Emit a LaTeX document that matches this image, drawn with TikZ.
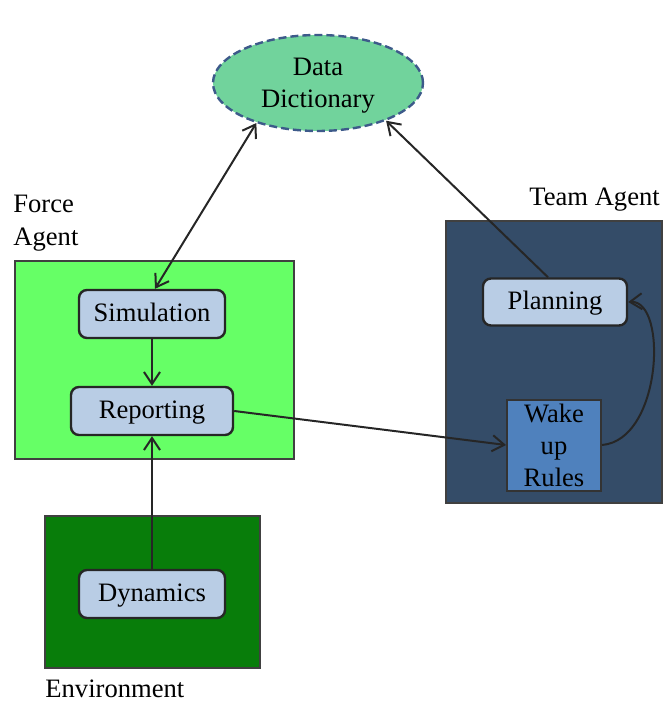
\documentclass[tikz,border=0pt]{standalone}
\usepackage{fontspec}
\setmainfont{Liberation Serif}
\usetikzlibrary{arrows.meta,shapes.geometric}
\definecolor{ddfill}{RGB}{113,211,156}
\definecolor{ddline}{RGB}{61,90,138}
\definecolor{forcefill}{RGB}{102,255,102}
\definecolor{envfill}{RGB}{8,125,10}
\definecolor{teamfill}{RGB}{52,76,104}
\definecolor{boxfill}{RGB}{185,205,229}
\definecolor{wakefill}{RGB}{79,129,189}
\definecolor{frameline}{RGB}{64,64,64}
\begin{document}
\begin{tikzpicture}[x=0.5pt,y=-0.5pt,
  every node/.style={font=\fontsize{13.3}{16}\selectfont},
  region/.style={draw=frameline,line width=1.2pt,rectangle,inner sep=0pt},
  procbox/.style={draw=black!85,line width=1.2pt,fill=boxfill,rounded corners=4pt,inner sep=0pt,
    text height=0.76em,text depth=0pt},
  lbl/.style={inner sep=0pt,anchor=base west},
  conn/.style={line width=1pt,draw=black!85},
  tip/.style={-{Straight Barb[length=6pt,width=8pt,line width=1pt]}},
  dtip/.style={{Straight Barb[length=6pt,width=8pt,line width=1pt]}-{Straight Barb[length=6pt,width=8pt,line width=1pt]}}
]
\useasboundingbox (0,0) rectangle (664,704);
% regions
\node[region,fill=forcefill,minimum width=139.5pt,minimum height=99pt] (force) at (154.5,360) {};
\node[region,fill=envfill,minimum width=107.5pt,minimum height=76pt] (env) at (152.5,592) {};
\node[region,fill=teamfill,minimum width=108pt,minimum height=141pt] (team) at (554,362) {};
% labels
\node[lbl] (lforce) at (13,213) {Force};
\node[lbl] (lagent) at (13,246) {Agent};
\node[lbl] (lteam) at (529,206) {Team Agent};
\node[lbl] (lenv) at (45,697) {Environment};
% data dictionary
\node[ellipse,draw=ddline,dashed,dash pattern=on 4pt off 2pt,line width=1.2pt,fill=ddfill,
  minimum width=105pt,minimum height=48pt,inner sep=0pt] (dd) at (318,83) {};
\node[align=center,inner sep=0pt] (ddtext) at (318,86) {Data\\Dictionary};
% process boxes
\node[procbox,minimum width=73pt,minimum height=24pt] (sim) at (152,314) {Simulation};
\node[procbox,minimum width=81pt,minimum height=24pt] (rep) at (152,411) {Reporting};
\node[procbox,minimum width=73pt,minimum height=24pt] (dyn) at (152,594) {Dynamics};
\node[procbox,minimum width=72pt,minimum height=23.5pt] (plan) at (555,302) {Planning};
\node[draw=black!80,line width=1pt,fill=wakefill,minimum width=47pt,minimum height=45.5pt,
  inner sep=0pt,align=center] (wake) at (554,445) {Wake\\up\\Rules};
% connectors
\coordinate (simtop) at ([xshift=1.5pt]sim.north);
\coordinate (pn) at ([xshift=-3.5pt]plan.north);
\draw[conn,dtip] (dd.213) -- (simtop);
\draw[conn,tip] (pn) -- (dd.331);
\draw[conn,tip] (sim.south) -- (rep.north);
\draw[conn,tip] (dyn.north) -- (rep.south);
\draw[conn,tip] (rep.east) -- (wake.west);
\draw[conn,tip] (wake.east) .. controls (662,440) and (668,300) .. (plan.east);
\end{tikzpicture}
\end{document}
